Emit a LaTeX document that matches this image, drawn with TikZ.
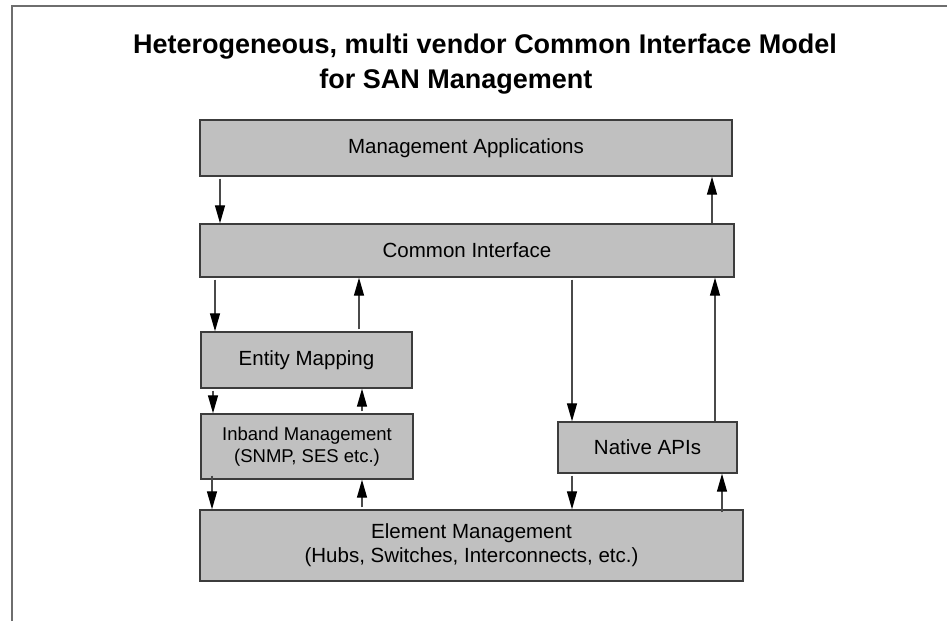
\documentclass[tikz,border=0pt]{standalone}
\usepackage{fontspec}
\setmainfont{Liberation Sans}
\usetikzlibrary{arrows.meta}
\definecolor{boxfill}{HTML}{C0C0C0}
\definecolor{boxline}{HTML}{3C3C3C}
\definecolor{shaft}{HTML}{4A4A4A}
\definecolor{frameline}{HTML}{6E6E6E}
\tikzset{
  layer/.style={draw=boxline, line width=1.4pt, fill=boxfill, inner sep=0pt,
    align=center, font=\fontsize{20.5}{24}\selectfont},
  smalllayer/.style={layer, font=\fontsize{18.5}{22}\selectfont},
  flow/.style={draw=shaft, line width=1.3pt,
    -{Triangle[length=18pt,width=10pt,fill=black,color=black]}},
  heading/.style={font=\fontsize{27}{32}\bfseries\selectfont, anchor=base, inner sep=0pt}
}
\begin{document}
\begin{tikzpicture}[x=1pt,y=-1pt]
\useasboundingbox (0,0) rectangle (947,621);
% outer frame (left and top edges)
\draw[frameline, line width=1.6pt] (12,621) -- (12,6) -- (947,6);

% heading
\node[heading] (t1) at (485,53) {Heterogeneous, multi vendor Common Interface Model};
\node[heading] (t2) at (456,88) {for SAN Management};

% layers
\node[layer, minimum width=532, minimum height=56] (ma) at (466,148) {Management Applications};
\node[layer, minimum width=534, minimum height=53] (ci) at (467,250.5) {Common Interface};
\node[layer, minimum width=211, minimum height=56] (em) at (306.5,360) {Entity Mapping};
\node[smalllayer, minimum width=212, minimum height=65] (ib) at (307,446.5) {Inband Management\\(SNMP, SES etc.)};
\node[layer, minimum width=179, minimum height=51] (na) at (647.5,447.5) {Native APIs};
\node[layer, minimum width=543, minimum height=71] (el) at (471.5,545.5) {Element Management\\(Hubs, Switches, Interconnects, etc.)};

% x positions of the connectors
\coordinate (c1) at (220,0);
\coordinate (c2) at (712,0);
\coordinate (c3) at (215,0);
\coordinate (c4) at (359,0);
\coordinate (c5) at (213,0);
\coordinate (c6) at (362,0);
\coordinate (c7) at (212,0);
\coordinate (c8) at (362,0);
\coordinate (c9) at (572,0);
\coordinate (c10) at (715,0);
\coordinate (c11) at (722,0);

% connectors
\draw[flow] (ma.south -| c1) ++(0,2) -- (ci.north -| c1);
\draw[flow] (ci.north -| c2) -- (ma.south -| c2);
\draw[flow] (ci.south -| c3) ++(0,2) -- (em.north -| c3);
\draw[flow] (em.north -| c4) ++(0,-2) -- (ci.south -| c4);
\draw[flow] (em.south -| c5) ++(0,2) -- (ib.north -| c5);
\draw[flow] (ib.north -| c6) ++(0,-2) -- (em.south -| c6);
\draw[flow] (ib.south -| c7) ++(0,-4) -- (el.north -| c7);
\draw[flow] (el.north -| c8) ++(0,-2) -- (ib.south -| c8);
\draw[flow] (ci.south -| c9) ++(0,2) -- (na.north -| c9);
\draw[flow] (na.north -| c10) -- (ci.south -| c10);
\draw[flow] (na.south -| c9) ++(0,2) -- (el.north -| c9);
\draw[flow] (el.north -| c11) ++(0,3) -- (na.south -| c11);
\end{tikzpicture}
\end{document}
